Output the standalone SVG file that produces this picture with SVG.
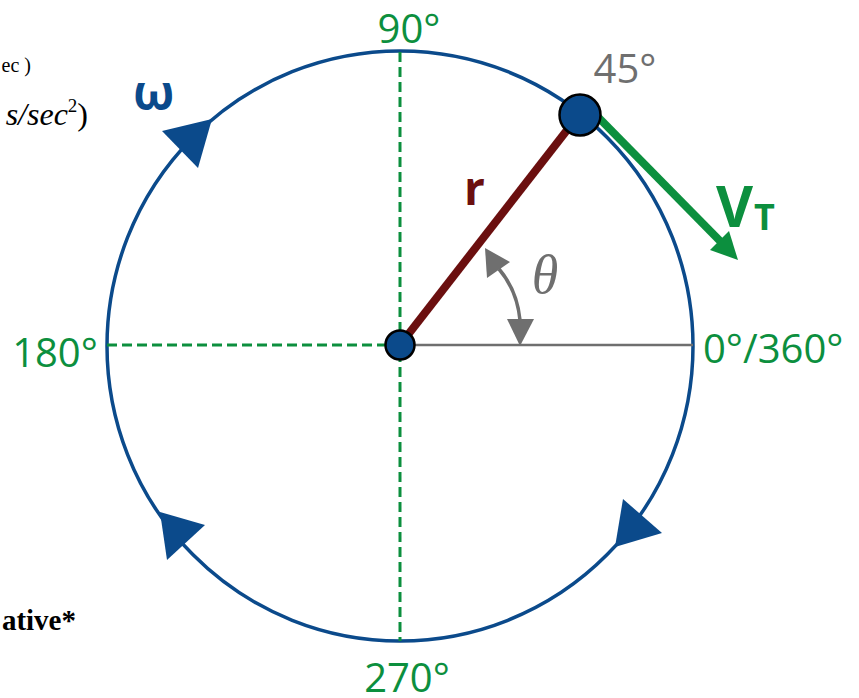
<svg xmlns="http://www.w3.org/2000/svg" width="859" height="698" viewBox="0 0 859 698">
  <style>
    .deg { font-family: "Open Sans", "Liberation Sans", sans-serif; font-size: 40px; fill: #0c8f3e; }
    .gray { fill: #6f6f6f; }
    .axis { stroke: #0c8f3e; stroke-width: 3; stroke-dasharray: 10 5; fill: none; }
    .orbit { fill: none; stroke: #0b4a8b; stroke-width: 3.5; }
    .tri { fill: #0b4a8b; }
    .ref { font-family: "Liberation Serif", "Times New Roman", serif; fill: #000; }
  </style>
  <rect width="859" height="698" fill="#ffffff"/>

  <g id="fragments">
    <text class="ref" x="31" y="72" font-size="20" text-anchor="end">ec )</text>
    <text class="ref" x="88" y="125" font-size="32" text-anchor="end"><tspan font-style="italic">s/sec</tspan><tspan dy="-13" font-size="19">2</tspan><tspan dy="13">)</tspan></text>
    <text class="ref" x="76" y="630" font-size="29" font-weight="bold" text-anchor="end">ative*</text>
  </g>

  <g id="orbit">
    <ellipse class="orbit" cx="400" cy="346" rx="293" ry="295"/>
    <polygon class="tri" points="162,131 212,119 198,168"/>
    <polygon class="tri" points="160,512 205,525 167,560"/>
    <polygon class="tri" points="623,499 662,533 615,547"/>
  </g>

  <g id="connectors">
    <line class="axis" x1="400" y1="52" x2="400" y2="641"/>
    <line class="axis" x1="107" y1="345" x2="400" y2="345"/>
    <line x1="400" y1="345" x2="693" y2="345" stroke="#6f6f6f" stroke-width="2.5"/>
    <path d="M520,320 Q517,290 499,269" fill="none" stroke="#6f6f6f" stroke-width="3.5"/>
    <polygon class="gray" points="485,248 487,278 510,262"/>
    <polygon class="gray" points="507,319 534,319 520,346"/>
    <line x1="400" y1="345" x2="578" y2="116" stroke="#6b0f0f" stroke-width="8"/>
    <line x1="596" y1="115" x2="721" y2="242" stroke="#0c8f3e" stroke-width="8"/>
    <polygon fill="#0c8f3e" points="738,260 710,250 729,231"/>
  </g>

  <g id="center">
    <circle cx="400" cy="345" r="14.5" fill="#0b4a8b" stroke="#000" stroke-width="2.5"/>
  </g>
  <g id="particle">
    <circle cx="580" cy="115" r="20.5" fill="#0b4a8b" stroke="#000" stroke-width="2.5"/>
  </g>

  <g id="labels">
    <text class="deg" x="409" y="43" text-anchor="middle">90°</text>
    <text class="deg" x="407" y="692" text-anchor="middle">270°</text>
    <text class="deg" x="55" y="367" text-anchor="middle">180°</text>
    <text class="deg" x="703" y="363">0°/360°</text>
    <text class="deg gray" x="625" y="83" text-anchor="middle">45°</text>
    <text x="133" y="110" font-family="'Open Sans', 'Liberation Sans', sans-serif" font-size="48" font-weight="bold" fill="#0b4a8b">ω</text>
    <text x="464" y="205" font-family="'Open Sans', 'Liberation Sans', sans-serif" font-size="46" font-weight="bold" fill="#6b0f0f">r</text>
    <text x="545" y="293" font-family="'Liberation Serif', serif" font-size="54" font-style="italic" fill="#6f6f6f" text-anchor="middle">θ</text>
    <text font-family="'Open Sans', 'Liberation Sans', sans-serif" font-weight="bold" fill="#0c8f3e"><tspan x="716" y="227" font-size="57">V</tspan><tspan x="754" y="230" font-size="36">T</tspan></text>
  </g>
</svg>
